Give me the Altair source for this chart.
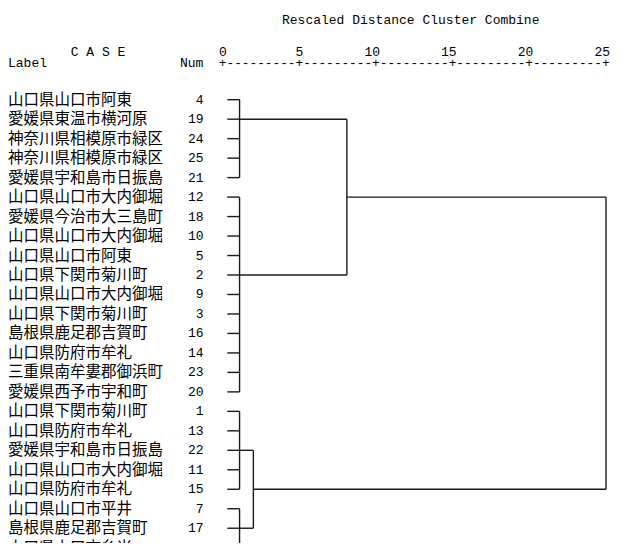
import altair as alt
import pandas as pd

# ---- data ----
labels = [
    "山口県山口市阿東", "愛媛県東温市横河原", "神奈川県相模原市緑区", "神奈川県相模原市緑区",
    "愛媛県宇和島市日振島", "山口県山口市大内御堀", "愛媛県今治市大三島町", "山口県山口市大内御堀",
    "山口県山口市阿東", "山口県下関市菊川町", "山口県山口市大内御堀", "山口県下関市菊川町",
    "島根県鹿足郡吉賀町", "山口県防府市牟礼", "三重県南牟婁郡御浜町", "愛媛県西予市宇和町",
    "山口県下関市菊川町", "山口県防府市牟礼", "愛媛県宇和島市日振島", "山口県山口市大内御堀",
    "山口県防府市牟礼", "山口県山口市平井", "島根県鹿足郡吉賀町", "山口県山口市糸米",
]
nums = [4, 19, 24, 25, 21, 12, 18, 10, 5, 2, 9, 3, 16, 14, 23, 20, 1, 13, 22, 11, 15, 7, 17, 6]

# leaf-level clusters (row ranges), the row where each joins upward, and merge distance
cl_first = [0, 5, 16, 21]
cl_last = [4, 15, 20, 23]
cl_join = [1, 9, 18, 22]
cl_height = [1.1, 1.1, 1.1, 1.1]
leaf_start = 0.3

# higher merges: children ids, distance, joining row (ids continue after leaf clusters)
merge_a = [2, 0, 5]
merge_b = [3, 1, 4]
merge_height = [2.0, 8.1, 25.0]
merge_join = [20, 5, None]

ticks = [0, 5, 10, 15, 20, 25]

# ---- build segments ----
heights = list(cl_height)
joins = list(cl_join)
segs = []
for i in range(len(cl_first)):
    h = cl_height[i]
    for r in range(cl_first[i], cl_last[i] + 1):
        segs.append(dict(x=leaf_start, x2=h, y=r, y2=r))
    segs.append(dict(x=h, x2=h, y=cl_first[i], y2=cl_last[i]))
for a, b, H, j in zip(merge_a, merge_b, merge_height, merge_join):
    segs.append(dict(x=heights[a], x2=H, y=joins[a], y2=joins[a]))
    segs.append(dict(x=heights[b], x2=H, y=joins[b], y2=joins[b]))
    segs.append(dict(x=H, x2=H, y=joins[a], y2=joins[b]))
    heights.append(H)
    joins.append(j)
seg_df = pd.DataFrame(segs)

rows_df = pd.DataFrame({"row": list(range(len(labels))), "label": labels, "num": [str(n) for n in nums]})
tick_df = pd.DataFrame({"t": ticks, "txt": [str(t) for t in ticks]})
axis_df = pd.DataFrame({"t": [0], "txt": ["+" + "---------+" * 5]})

X0, X25 = 214.7, 598.0
xs = alt.Scale(domain=[0, 25], range=[X0, X25])
ys = alt.Scale(domain=[0, 23], range=[91.7, 539.7])
MONO = "Liberation Mono"
JP = "Noto Sans CJK JP"
char_w = (X25 - X0) / 50.0
axis_font = char_w / 0.6

lines = alt.Chart(seg_df).mark_rule(color="#1a1a1a", strokeWidth=1.4).encode(
    x=alt.X("x:Q", scale=xs, axis=None),
    x2="x2:Q",
    y=alt.Y("y:Q", scale=ys, axis=None),
    y2="y2:Q",
)

lab = alt.Chart(rows_df).mark_text(align="left", baseline="middle", font=JP, fontSize=15.5, color="#000").encode(
    x=alt.value(0),
    y=alt.Y("row:Q", scale=ys, axis=None),
    text="label:N",
)

num = alt.Chart(rows_df).mark_text(align="right", baseline="middle", font=MONO, fontSize=13, color="#000").encode(
    x=alt.value(195.5),
    y=alt.Y("row:Q", scale=ys, axis=None),
    text="num:N",
)

tick_lab = alt.Chart(tick_df).mark_text(align="right", baseline="middle", font=MONO, fontSize=13, dx=4, color="#000").encode(
    x=alt.X("t:Q", scale=xs, axis=None),
    y=alt.value(43.7),
    text="txt:N",
)

axis_line = alt.Chart(axis_df).mark_text(align="left", baseline="middle", font=MONO, fontSize=axis_font,
                                         dx=-char_w / 2, color="#000").encode(
    x=alt.X("t:Q", scale=xs, axis=None),
    y=alt.value(55.3),
    text="txt:N",
)

hdr_df = pd.DataFrame({
    "txt": ["Rescaled Distance Cluster Combine", "C A S E", "Label", "Num"],
    "px": [274.0, 62.7, 0.0, 172.0],
    "py": [12.0, 43.7, 55.3, 55.3],
})
headers = alt.Chart(hdr_df).mark_text(align="left", baseline="middle", font=MONO, fontSize=13, color="#000").encode(
    x=alt.X("px:Q", scale=None, axis=None),
    y=alt.Y("py:Q", scale=None, axis=None),
    text="txt:N",
)

chart = alt.layer(lines, lab, num, tick_lab, axis_line, headers).properties(
    width=603, height=535, autosize=alt.AutoSizeParams(type="none"), padding=0, background="white"
).configure_view(stroke=None)

chart.save("out.html", embed_options={"renderer": "svg", "actions": False})
